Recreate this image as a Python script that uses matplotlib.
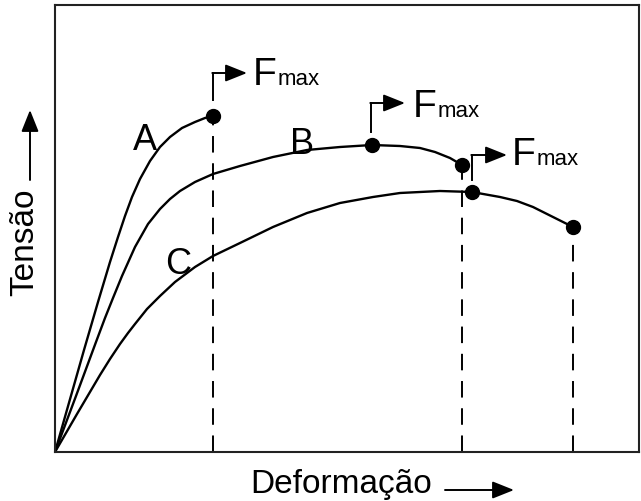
import matplotlib
matplotlib.use("Agg")
import matplotlib.pyplot as plt

plt.rcParams['font.family'] = ['Liberation Sans', 'DejaVu Sans']

# curves (deformação, tensão), arbitrary units
a_x = [0, 29, 43, 55, 63, 70, 77, 85, 95, 105, 115, 127, 140, 150, 158]
a_y = [0, 102, 150, 190, 215, 236, 255, 273, 291, 305, 315, 324, 330, 334, 336]

b_x = [0, 21, 41, 50, 58, 67, 80, 93, 105, 115, 125, 140, 158, 185, 218, 252, 285, 317,
       345, 365, 380, 395, 407]
b_y = [0, 56, 110, 134, 154, 176, 205, 228, 243, 253, 261, 270, 278, 286, 295, 302, 305, 307,
       306, 304, 300, 294, 287]

c_x = [0, 22, 45, 55, 65, 73, 80, 92, 105, 120, 140, 158, 185, 218, 252, 285, 318, 345, 365,
       385, 417, 445, 462, 478, 498, 518]
c_y = [0, 38, 77, 93, 108, 119, 128, 143, 156, 170, 185, 196, 209, 225, 239, 249, 255, 259, 260,
       261, 260, 255, 251, 245, 235, 225]

# marked points: ends of curves and max force
dot_x = [158, 317, 407, 417, 518]
dot_y = [336, 307, 287, 260, 225]

# dashed drops at rupture
drop_x = [158, 407, 518]
drop_y = [336, 287, 225]

# F_max brackets: foot of bracket, top, arrow tip, text position
fmax_x = [158, 316, 417]
fmax_foot = [352, 320, 272]
fmax_top = [379, 349, 297]
fmax_tip = [192, 350, 452]
fmax_text_x = [198, 358, 457]
fmax_text_y = [367, 335, 287]

curve_labels = ['A', 'B', 'C']
label_x = [90, 247, 123]
label_y = [312, 307, 187]

fig = plt.figure(figsize=(6.41, 5.01), dpi=100)
ax = fig.add_axes([55 / 641, 49 / 501, 584 / 641, 447 / 501])

for xs, ys in [(a_x, a_y), (b_x, b_y), (c_x, c_y)]:
    ax.plot(xs, ys, color='black', lw=1.7, solid_capstyle='round', solid_joinstyle='round')

for x, y in zip(drop_x, drop_y):
    ax.plot([x, x], [0, y], color='black', lw=1.4, linestyle=(0, (8.5, 5.5)))

ax.plot(dot_x, dot_y, 'o', color='black', markersize=10, linestyle='none', zorder=5)

arrow_style = '-|>,head_length=0.55,head_width=0.22'
for i in range(len(fmax_x)):
    ax.plot([fmax_x[i], fmax_x[i]], [fmax_foot[i], fmax_top[i]], color='black', lw=1.4)
    ax.annotate('', xy=(fmax_tip[i], fmax_top[i]), xytext=(fmax_x[i] - 0.7, fmax_top[i]),
                arrowprops=dict(arrowstyle=arrow_style, color='black',
                                lw=1.4, shrinkA=0, shrinkB=0, mutation_scale=24))
    ax.text(fmax_text_x[i], fmax_text_y[i], 'F', fontsize=28, va='baseline', ha='left')
    ax.annotate('max', xy=(fmax_text_x[i], fmax_text_y[i]), xytext=(17.5, 0),
                textcoords='offset points', fontsize=16, va='baseline', ha='left')

for lab, x, y in zip(curve_labels, label_x, label_y):
    ax.text(x, y, lab, fontsize=26, ha='center', va='center')

ax.set_xlim(0, 584)
ax.set_ylim(0, 447)
ax.set_xticks([])
ax.set_yticks([])
for s in ax.spines.values():
    s.set_linewidth(1.5)
    s.set_color('#222222')

# axis titles with arrows
fig.text(25 / 641, 1 - 242 / 501, 'Tensão', rotation=90, fontsize=24, ha='center', va='center')
fig.text(341 / 641, 1 - 485 / 501, 'Deformação', fontsize=24, ha='center', va='center')
ax.annotate('', xy=(30, 501 - 110), xytext=(30, 501 - 180), xycoords='figure pixels',
            arrowprops=dict(arrowstyle=arrow_style, color='black',
                            lw=1.4, shrinkA=0, shrinkB=0, mutation_scale=24))
ax.annotate('', xy=(514, 501 - 490), xytext=(445, 501 - 490), xycoords='figure pixels',
            arrowprops=dict(arrowstyle=arrow_style, color='black',
                            lw=1.4, shrinkA=0, shrinkB=0, mutation_scale=24))

fig.savefig('out.png', dpi=100, facecolor='white')
